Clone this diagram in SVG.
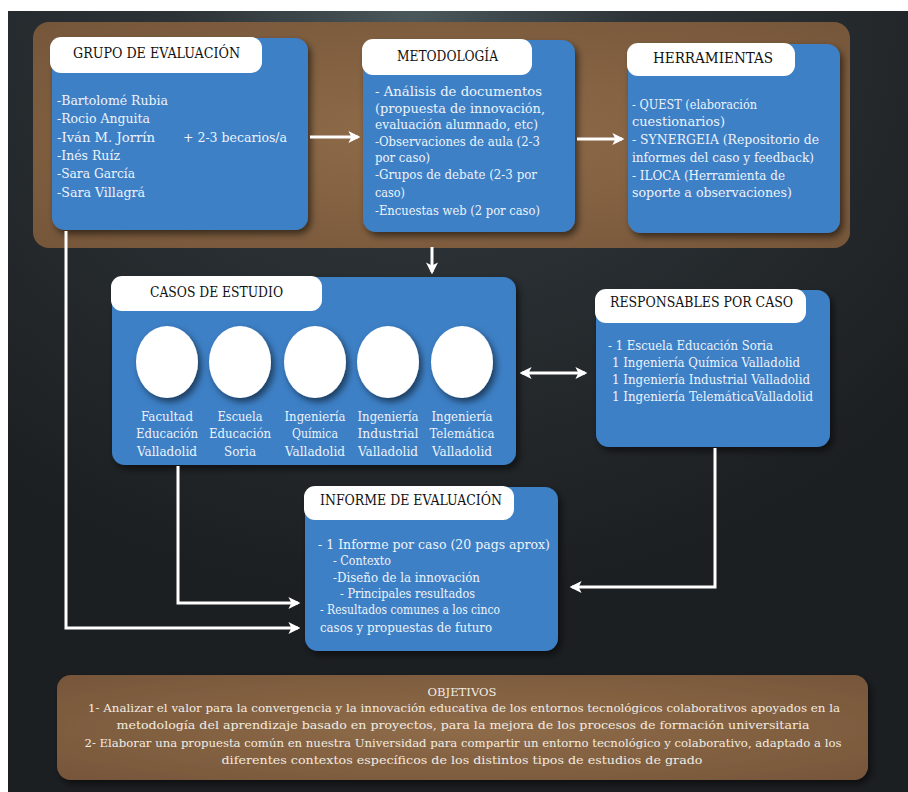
<svg xmlns="http://www.w3.org/2000/svg" width="908" height="792" viewBox="0 0 908 792">
<defs>
<radialGradient id="bg" cx="0.45" cy="0.0" r="0.75">
<stop offset="0" stop-color="#4a575b"/>
<stop offset="0.35" stop-color="#2c3236"/>
<stop offset="1" stop-color="#1c1f22"/>
</radialGradient>
<radialGradient id="brown" cx="0.5" cy="0.5" r="0.7">
<stop offset="0" stop-color="#8f6c49"/>
<stop offset="1" stop-color="#76563a"/>
</radialGradient>
<filter id="sh" x="-10%" y="-10%" width="125%" height="130%">
<feDropShadow dx="3" dy="4" stdDeviation="3.5" flood-color="#000" flood-opacity="0.55"/>
</filter>
<marker id="ah" viewBox="0 0 10 10" refX="8" refY="5" markerWidth="4" markerHeight="4" orient="auto-start-reverse" markerUnits="strokeWidth">
<path d="M0,0 L10,5 L0,10 L2.5,5 Z" fill="#ffffff"/>
</marker>
<style>
.blue{fill:#3c80c6;filter:url(#sh)}
.hdr{fill:#ffffff}
.ht{font-family:'DejaVu Serif Condensed','DejaVu Serif',serif;font-size:14px;fill:#111}
.bt{font-family:'DejaVu Serif Condensed','DejaVu Serif',serif;font-size:12.5px;fill:#eef3fb}
.ot{font-family:'DejaVu Serif Condensed','DejaVu Serif',serif;font-size:11.5px;fill:#f3ece2}
.ct{text-anchor:middle}
.ln{stroke:#ffffff;stroke-width:2.5;fill:none}
.ar{stroke:#ffffff;stroke-width:3;fill:none;marker-end:url(#ah)}
.circ{fill:#ffffff;filter:url(#sh)}
</style>
</defs>
<rect x="0" y="0" width="908" height="792" fill="#ffffff"/>
<rect x="8" y="11" width="900" height="781" fill="url(#bg)"/>
<rect x="33" y="22" width="817" height="226" rx="16" fill="url(#brown)"/>

<g id="grupo">
<rect class="blue" x="52" y="38" width="256" height="192" rx="13"/>
<rect class="hdr" x="50" y="37" width="212" height="36" rx="11"/>
<text class="ht" x="73" y="58" textLength="167" lengthAdjust="spacingAndGlyphs">GRUPO DE EVALUACIÓN</text>
<text class="bt" x="57" y="105" textLength="111" lengthAdjust="spacingAndGlyphs">-Bartolomé Rubia</text>
<text class="bt" x="57" y="123" textLength="93" lengthAdjust="spacingAndGlyphs">-Rocio Anguita</text>
<text class="bt" x="57" y="142" textLength="98" lengthAdjust="spacingAndGlyphs">-Iván M. Jorrín</text>
<text class="bt" x="57" y="160" textLength="63" lengthAdjust="spacingAndGlyphs">-Inés Ruíz</text>
<text class="bt" x="57" y="178" textLength="78" lengthAdjust="spacingAndGlyphs">-Sara García</text>
<text class="bt" x="57" y="197" textLength="88" lengthAdjust="spacingAndGlyphs">-Sara Villagrá</text>
<text class="bt" x="183" y="142" textLength="104" lengthAdjust="spacingAndGlyphs">+ 2-3 becarios/a</text>
</g>

<g id="metodologia">
<rect class="blue" x="363" y="40" width="212" height="192" rx="13"/>
<rect class="hdr" x="362" y="39" width="170" height="36" rx="11"/>
<text class="ht" x="397" y="61" textLength="101" lengthAdjust="spacingAndGlyphs">METODOLOGÍA</text>
<text class="bt" x="375" y="96" textLength="167" lengthAdjust="spacingAndGlyphs">- Análisis de documentos</text>
<text class="bt" x="375" y="113" textLength="170" lengthAdjust="spacingAndGlyphs">(propuesta de innovación,</text>
<text class="bt" x="375" y="129" textLength="163" lengthAdjust="spacingAndGlyphs">evaluación alumnado, etc)</text>
<text class="bt" x="375" y="146" textLength="165" lengthAdjust="spacingAndGlyphs">-Observaciones de aula (2-3</text>
<text class="bt" x="375" y="162" textLength="55" lengthAdjust="spacingAndGlyphs">por caso)</text>
<text class="bt" x="375" y="179" textLength="162" lengthAdjust="spacingAndGlyphs">-Grupos de debate (2-3 por</text>
<text class="bt" x="375" y="197" textLength="30" lengthAdjust="spacingAndGlyphs">caso)</text>
<text class="bt" x="375" y="215" textLength="165" lengthAdjust="spacingAndGlyphs">-Encuestas web (2 por caso)</text>
</g>

<g id="herramientas">
<rect class="blue" x="628" y="44" width="212" height="189" rx="13"/>
<rect class="hdr" x="627" y="43" width="168" height="33" rx="11"/>
<text class="ht" x="653" y="63" textLength="120" lengthAdjust="spacingAndGlyphs">HERRAMIENTAS</text>
<text class="bt" x="632" y="109" textLength="125" lengthAdjust="spacingAndGlyphs">- QUEST (elaboración</text>
<text class="bt" x="632" y="126" textLength="93" lengthAdjust="spacingAndGlyphs">cuestionarios)</text>
<text class="bt" x="632" y="144" textLength="187" lengthAdjust="spacingAndGlyphs">- SYNERGEIA (Repositorio de</text>
<text class="bt" x="632" y="162" textLength="182" lengthAdjust="spacingAndGlyphs">informes del caso y feedback)</text>
<text class="bt" x="632" y="180" textLength="153" lengthAdjust="spacingAndGlyphs">- ILOCA (Herramienta de</text>
<text class="bt" x="632" y="197" textLength="160" lengthAdjust="spacingAndGlyphs">soporte a observaciones)</text>
</g>

<g id="casos">
<rect class="blue" x="112" y="277" width="404" height="188" rx="13"/>
<rect class="hdr" x="111" y="276" width="211" height="35" rx="11"/>
<text class="ht" x="150" y="297" textLength="133" lengthAdjust="spacingAndGlyphs">CASOS DE ESTUDIO</text>
<ellipse class="circ" cx="167" cy="362" rx="31" ry="36"/>
<ellipse class="circ" cx="240" cy="362" rx="31" ry="36"/>
<ellipse class="circ" cx="315" cy="362" rx="31" ry="36"/>
<ellipse class="circ" cx="388" cy="362" rx="31" ry="36"/>
<ellipse class="circ" cx="462" cy="362" rx="31" ry="36"/>
<text class="bt ct" x="167" y="421" textLength="52" lengthAdjust="spacingAndGlyphs">Facultad</text>
<text class="bt ct" x="167" y="438" textLength="62" lengthAdjust="spacingAndGlyphs">Educación</text>
<text class="bt ct" x="167" y="456" textLength="60" lengthAdjust="spacingAndGlyphs">Valladolid</text>
<text class="bt ct" x="240" y="421" textLength="45" lengthAdjust="spacingAndGlyphs">Escuela</text>
<text class="bt ct" x="240" y="438" textLength="62" lengthAdjust="spacingAndGlyphs">Educación</text>
<text class="bt ct" x="240" y="456" textLength="32" lengthAdjust="spacingAndGlyphs">Soria</text>
<text class="bt ct" x="315" y="421" textLength="61" lengthAdjust="spacingAndGlyphs">Ingeniería</text>
<text class="bt ct" x="315" y="438" textLength="46" lengthAdjust="spacingAndGlyphs">Química</text>
<text class="bt ct" x="315" y="456" textLength="60" lengthAdjust="spacingAndGlyphs">Valladolid</text>
<text class="bt ct" x="388" y="421" textLength="61" lengthAdjust="spacingAndGlyphs">Ingeniería</text>
<text class="bt ct" x="388" y="438" textLength="61" lengthAdjust="spacingAndGlyphs">Industrial</text>
<text class="bt ct" x="388" y="456" textLength="60" lengthAdjust="spacingAndGlyphs">Valladolid</text>
<text class="bt ct" x="462" y="421" textLength="61" lengthAdjust="spacingAndGlyphs">Ingeniería</text>
<text class="bt ct" x="462" y="438" textLength="65" lengthAdjust="spacingAndGlyphs">Telemática</text>
<text class="bt ct" x="462" y="456" textLength="60" lengthAdjust="spacingAndGlyphs">Valladolid</text>
</g>

<g id="responsables">
<rect class="blue" x="596" y="290" width="234" height="157" rx="13"/>
<rect class="hdr" x="595" y="289" width="211" height="34" rx="11"/>
<text class="ht" x="610" y="307" textLength="183" lengthAdjust="spacingAndGlyphs">RESPONSABLES POR CASO</text>
<text class="bt" x="608" y="350" textLength="165" lengthAdjust="spacingAndGlyphs">- 1 Escuela Educación Soria</text>
<text class="bt" x="612" y="367" textLength="188" lengthAdjust="spacingAndGlyphs">1 Ingeniería Química Valladolid</text>
<text class="bt" x="612" y="384" textLength="198" lengthAdjust="spacingAndGlyphs">1 Ingeniería Industrial Valladolid</text>
<text class="bt" x="612" y="401" textLength="201" lengthAdjust="spacingAndGlyphs">1 Ingeniería TelemáticaValladolid</text>
</g>

<g id="informe">
<rect class="blue" x="305" y="487" width="253" height="164" rx="13"/>
<rect class="hdr" x="304" y="486" width="210" height="34" rx="11"/>
<text class="ht" x="320" y="505" textLength="182" lengthAdjust="spacingAndGlyphs">INFORME DE EVALUACIÓN</text>
<text class="bt" x="318" y="549" textLength="232" lengthAdjust="spacingAndGlyphs">- 1 Informe por caso (20 pags aprox)</text>
<text class="bt" x="333" y="565" textLength="58" lengthAdjust="spacingAndGlyphs">- Contexto</text>
<text class="bt" x="333" y="582" textLength="147" lengthAdjust="spacingAndGlyphs">-Diseño de la innovación</text>
<text class="bt" x="340" y="598" textLength="135" lengthAdjust="spacingAndGlyphs">- Principales resultados</text>
<text class="bt" x="320" y="614" textLength="180" lengthAdjust="spacingAndGlyphs">- Resultados comunes a los cinco</text>
<text class="bt" x="320" y="632" textLength="172" lengthAdjust="spacingAndGlyphs">casos y propuestas de futuro</text>
</g>

<g id="objetivos">
<rect x="57" y="675" width="811" height="105" rx="14" fill="url(#brown)" filter="url(#sh)"/>
<text class="ot ct" x="462" y="696" textLength="69" lengthAdjust="spacingAndGlyphs">OBJETIVOS</text>
<text class="ot ct" x="464" y="712" textLength="752" lengthAdjust="spacingAndGlyphs">1- Analizar el valor para la convergencia y la innovación educativa de los entornos tecnológicos colaborativos apoyados en la</text>
<text class="ot ct" x="463" y="729" textLength="693" lengthAdjust="spacingAndGlyphs">metodología del aprendizaje basado en proyectos, para la mejora de los procesos de formación universitaria</text>
<text class="ot ct" x="463" y="747" textLength="757" lengthAdjust="spacingAndGlyphs">2- Elaborar una propuesta común en nuestra Universidad para compartir un entorno tecnológico y colaborativo, adaptado a los</text>
<text class="ot ct" x="462" y="764" textLength="481" lengthAdjust="spacingAndGlyphs">diferentes contextos específicos de los distintos tipos de estudios de grado</text>
</g>

<g id="connectors">
<path class="ar" d="M310,137 L358,137"/>
<path class="ar" d="M577,139 L622,139"/>
<path class="ar" d="M432,247 L432,272"/>
<path class="ar" d="M522,373 L585,373" marker-start="url(#ah)"/>
<path class="ar" d="M66,231 L66,628 L298,628"/>
<path class="ar" d="M178,466 L178,603 L298,603"/>
<path class="ar" d="M715,448 L715,587 L572,587"/>
</g>
</svg>
